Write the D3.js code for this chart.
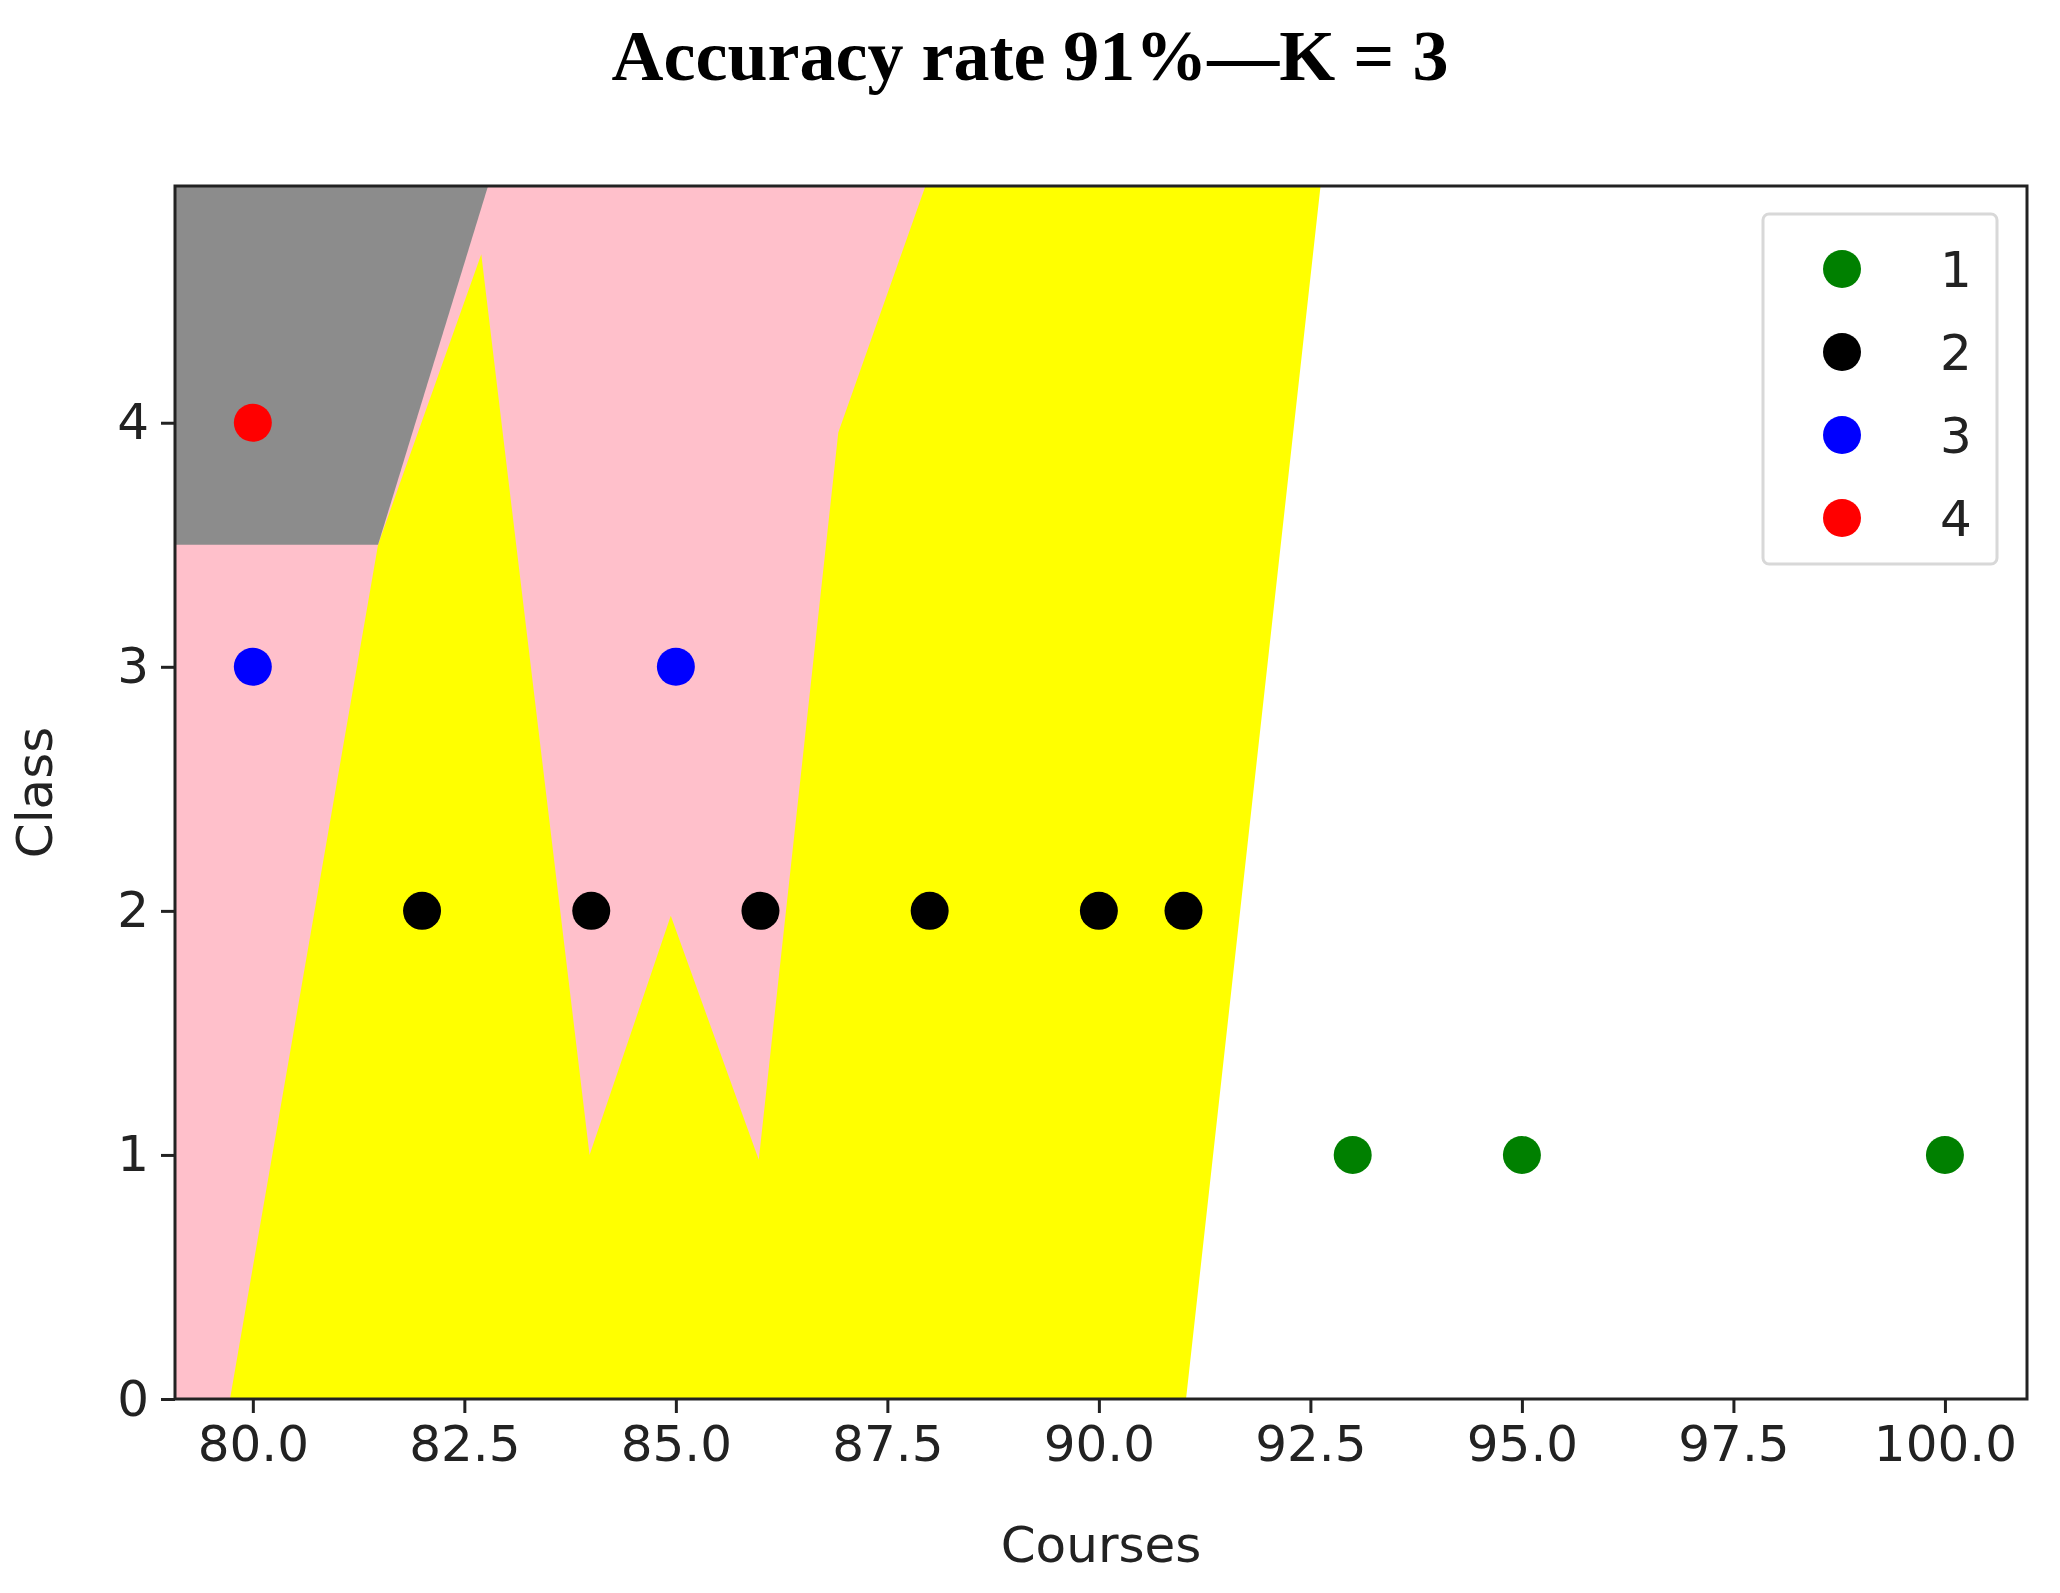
<!DOCTYPE html>
<html>
<head>
<meta charset="utf-8">
<script src="https://cdn.jsdelivr.net/npm/d3@7"></script>
<style>
  body { margin: 0; background: #fff; }
  .tick text { font-family: "DejaVu Sans", sans-serif; fill: #222; }
</style>
</head>
<body>
<svg id="chart"></svg>
<script>
// scatter data: [course, class]
const class1 = [[93, 1], [95, 1], [100, 1]];
const class2 = [[82, 2], [84, 2], [86, 2], [88, 2], [90, 2], [91, 2]];
const class3 = [[80, 3], [85, 3]];
const class4 = [[80, 4]];
const seriesNames = ["1", "2", "3", "4"];
const seriesColours = ["green", "black", "blue", "red"];

// decision regions
const pinkRegion = [[79.08, 0], [86, 0], [87.95, 4.97], [79.08, 4.97]];
const yellowRegion = [[79.73, 0], [81.48, 3.5], [82.7, 4.69], [83.98, 1.0], [84.94, 1.98],
  [85.98, 0.98], [86.92, 3.96], [87.95, 4.97], [92.62, 4.97], [91.03, 0]];
const grayRegion = [[79.08, 3.5], [81.48, 3.5], [82.78, 4.97], [79.08, 4.97]];

const xTicks = [80, 82.5, 85, 87.5, 90, 92.5, 95, 97.5, 100];
const yTicks = [0, 1, 2, 3, 4];

const W = 2060, H = 1593;
const margin = { top: 186, right: 33, bottom: 194, left: 175 };
const width = W - margin.left - margin.right;
const height = H - margin.top - margin.bottom;

const svg = d3.select("#chart").attr("width", W).attr("height", H);
const chart = svg.append("g").attr("transform", `translate(${margin.left}, ${margin.top})`);

const x = d3.scaleLinear().domain([79.08, 100.97]).range([0, width]);
const y = d3.scaleLinear().domain([0, 4.97]).range([height, 0]);

const line = d3.line().x(d => x(d[0])).y(d => y(d[1]));
[[pinkRegion, "#ffc0cb"], [yellowRegion, "#ffff00"], [grayRegion, "#8c8c8c"]].forEach(([poly, c]) => {
  chart.append("path").attr("d", line(poly) + "Z").attr("fill", c);
});

const series = [class1, class2, class3, class4];
series.forEach((pts, i) => {
  chart.selectAll(null).data(pts).enter().append("ellipse")
    .attr("cx", d => x(d[0])).attr("cy", d => y(d[1]))
    .attr("rx", 19).attr("ry", 19)
    .attr("fill", seriesColours[i]);
});

// frame
chart.append("rect").attr("width", width).attr("height", height)
  .attr("fill", "none").attr("stroke", "#222").attr("stroke-width", 3);

chart.append("g").attr("transform", `translate(0, ${height})`)
  .call(d3.axisBottom(x).tickValues(xTicks).tickFormat(d3.format(".1f")).tickSize(14).tickPadding(12))
  .call(g => g.select(".domain").remove())
  .call(g => g.selectAll(".tick line").attr("stroke", "#222").attr("stroke-width", 3))
  .call(g => g.selectAll(".tick text").attr("font-size", 50));

chart.append("g")
  .call(d3.axisLeft(y).tickValues(yTicks).tickFormat(d3.format("d")).tickSize(14).tickPadding(12))
  .call(g => g.select(".domain").remove())
  .call(g => g.selectAll(".tick line").attr("stroke", "#222").attr("stroke-width", 3))
  .call(g => g.selectAll(".tick text").attr("font-size", 50));

svg.append("text")
  .attr("x", margin.left + width / 2).attr("y", 1562)
  .attr("text-anchor", "middle")
  .attr("font-family", "DejaVu Sans").attr("font-size", 50).attr("fill", "#222")
  .text("Courses");

svg.append("text")
  .attr("transform", `translate(52, ${margin.top + height / 2}) rotate(-90)`)
  .attr("text-anchor", "middle")
  .attr("font-family", "DejaVu Sans").attr("font-size", 50).attr("fill", "#222")
  .text("Class");

svg.append("text")
  .attr("x", 1030).attr("y", 80)
  .attr("text-anchor", "middle")
  .attr("font-family", "Liberation Serif").attr("font-weight", "bold").attr("font-size", 72)
  .text("Accuracy rate 91%\u2014K = 3");

// legend
const legend = svg.append("g");
legend.append("rect")
  .attr("x", 1763).attr("y", 214).attr("width", 234).attr("height", 350).attr("rx", 6)
  .attr("fill", "#fff").attr("stroke", "#d8d8d8").attr("stroke-width", 3);
seriesNames.forEach((name, i) => {
  const ly = 269 + i * 83;
  legend.append("ellipse").attr("cx", 1842).attr("cy", ly).attr("rx", 19).attr("ry", 19)
    .attr("fill", seriesColours[i]);
  legend.append("text").attr("x", 1956).attr("y", ly + 18).attr("text-anchor", "middle")
    .attr("font-family", "DejaVu Sans").attr("font-size", 50).attr("fill", "#222")
    .text(name);
});
</script>
</body>
</html>
